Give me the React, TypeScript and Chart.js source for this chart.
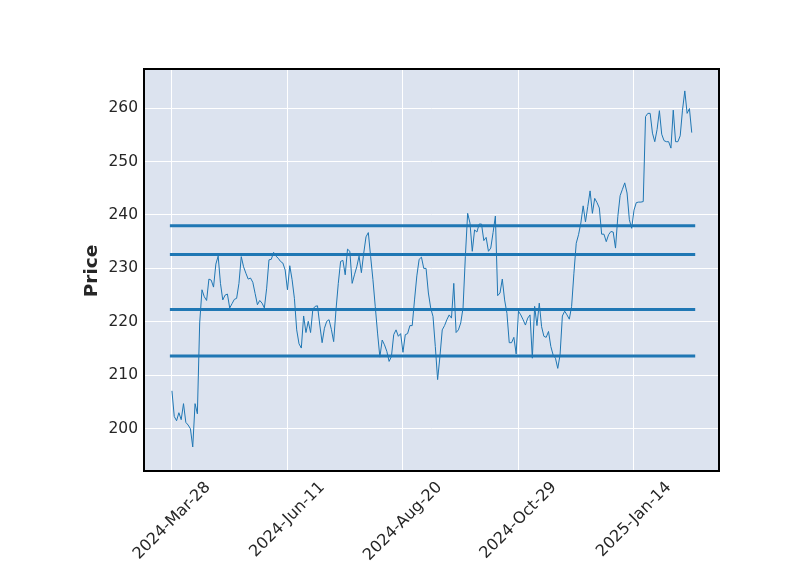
import React, { useEffect, useRef } from "react";
import { Chart, registerables } from "chart.js";
Chart.register(...registerables);

const tickLabels = ["2024-Mar-28", "2024-Jun-11", "2024-Aug-20", "2024-Oct-29", "2025-Jan-14"];
const tickIndex = [0, 50, 100, 150, 200];
const yTicks = [200, 210, 220, 230, 240, 250, 260];
const yLabel = "Price";

const closesA = [207.1, 202.3, 201.5, 203.0, 201.7, 204.7, 201.2, 200.7, 200.0, 196.6, 204.7, 202.8, 219.8, 226.0, 224.7, 224.0, 228.0, 227.8, 226.5, 230.8, 232.3, 227.2, 224.1, 225.0, 225.2, 222.6, 223.4, 224.2, 224.4, 227.2, 232.2, 230.3, 229.1, 228.0, 228.2];
const closesB = [227.4, 225.3, 223.2, 224.0, 223.5, 222.6, 226.3, 231.6, 231.7, 233.0, 232.3, 231.9, 231.3, 231.0, 229.7, 226.0, 230.5, 227.9, 224.4, 218.5, 215.9, 215.1, 221.1, 218.0, 220.1, 218.0, 222.4, 222.9, 223.0, 219.4, 216.1, 218.8, 220.1, 220.4, 218.6, 216.3, 222.2, 227.2];
const closesC = [231.3, 231.5, 228.8, 233.6, 233.2, 227.2, 228.8, 230.3, 232.3, 229.2, 232.8, 235.9, 236.7, 232.2, 227.9, 222.9, 217.9, 213.4, 216.6, 215.7, 214.5, 212.6, 213.5, 217.6, 218.5, 217.3, 217.8, 214.3, 217.6, 217.8, 219.3, 219.3, 224.1, 228.6, 231.7, 232.1, 230.0];
const closesD = [230.0, 225.4, 222.6, 221.0, 215.4, 209.2, 213.5, 218.5, 219.3, 220.4, 221.3, 220.7, 227.2, 218.0, 218.5, 219.8, 222.6, 232.2, 240.3, 238.5, 233.2, 237.2, 236.8, 238.3, 238.3, 235.2, 235.8, 233.2, 233.8, 236.7, 239.8, 224.9, 225.4, 228.0, 224.1, 221.6];
const closesE = [216.1, 216.1, 217.1, 214.0, 222.0, 221.3, 220.4, 219.4, 220.7, 221.3, 213.2, 222.9, 219.3, 223.5, 219.1, 217.3, 217.1, 218.2, 215.4, 213.8, 213.2, 211.3, 213.8, 221.1, 222.0, 221.3, 220.5, 222.9, 229.1, 234.7, 236.3, 238.5, 241.7, 238.7, 241.6, 244.5, 240.3];
const closesF = [243.1, 242.3, 241.3, 236.4, 236.4, 235.0, 236.3, 236.9, 236.8, 233.8, 239.7, 243.6, 244.8, 246.0, 244.1, 239.1, 237.5, 240.9, 242.3, 242.4, 242.4, 242.5, 258.4, 259.0, 259.0, 255.3, 253.7, 256.0, 259.5, 255.1, 253.9, 253.7, 253.7, 252.5, 259.6, 253.7, 253.7, 254.8, 259.6, 263.2, 259.0, 259.9, 255.4];
const closes = [...closesA, ...closesB, ...closesC, ...closesD, ...closesE, ...closesF];

const levels = [238.0, 232.6, 222.3, 213.6];
const levelSpan = [-0.9, 226.5];

const LINE = "#1f77b4";
const FACE = "#DCE3EF";
const TEXT = "#262626";
const FONT = "'DejaVu Sans', sans-serif";

export default function App() {
  const ref = useRef<HTMLCanvasElement | null>(null);
  useEffect(() => {
    const canvas = ref.current;
    if (!canvas) return;
    const datasets: any[] = [
      {
        data: closes.map((v, i) => ({ x: i, y: v })),
        borderColor: LINE,
        borderWidth: 1,
        pointRadius: 0,
        tension: 0,
        fill: false,
      },
      ...levels.map((lv) => ({
        data: levelSpan.map((x) => ({ x, y: lv })),
        borderColor: LINE,
        borderWidth: 3,
        pointRadius: 0,
        fill: false,
        borderCapStyle: "butt",
      })),
    ];
    const framePlugin = {
      id: "frame",
      beforeDraw(chart: any) {
        const { ctx, chartArea: a } = chart;
        ctx.save();
        ctx.fillStyle = FACE;
        ctx.fillRect(a.left, a.top, a.right - a.left, a.bottom - a.top);
        ctx.restore();
      },
      afterDraw(chart: any) {
        const { ctx, chartArea: a } = chart;
        ctx.save();
        ctx.strokeStyle = "#000";
        ctx.lineWidth = 2;
        ctx.strokeRect(a.left, a.top, a.right - a.left, a.bottom - a.top);
        const xs = chart.scales.x;
        ctx.fillStyle = TEXT;
        ctx.font = `16px ${FONT}`;
        ctx.textAlign = "center";
        ctx.textBaseline = "middle";
        tickIndex.forEach((ti, k) => {
          const px = xs.getPixelForValue(ti);
          const label = tickLabels[k];
          const w = ctx.measureText(label).width;
          const cy = a.bottom + 10 + (w + 11) / (2 * Math.SQRT2);
          ctx.save();
          ctx.translate(px, cy);
          ctx.rotate(-Math.PI / 4);
          ctx.fillText(label, 0, 0);
          ctx.restore();
        });
        ctx.font = `bold 18.5px ${FONT}`;
        ctx.translate(92, (a.top + a.bottom) / 2 + 1);
        ctx.rotate(-Math.PI / 2);
        ctx.fillText(yLabel, 0, 0);
        ctx.restore();
      },
    };
    const chart = new Chart(canvas, {
      type: "line",
      data: { datasets },
      options: {
        animation: false,
        responsive: false,
        maintainAspectRatio: false,
        layout: { padding: { top: 69, right: 81, left: 0, bottom: 0 } },
        plugins: { legend: { display: false }, tooltip: { enabled: false } },
        scales: {
          x: {
            type: "linear",
            min: -12.1,
            max: 236.8,
            afterBuildTicks: (s: any) => {
              s.ticks = tickIndex.map((v) => ({ value: v }));
            },
            afterFit: (s: any) => {
              s.height = 104;
            },
            ticks: { display: false },
            grid: { color: "#ffffff", lineWidth: 1, drawTicks: false },
            border: { display: false },
          },
          y: {
            type: "linear",
            min: 192.1,
            max: 267.3,
            afterBuildTicks: (s: any) => {
              s.ticks = yTicks.map((v) => ({ value: v }));
            },
            afterFit: (s: any) => {
              s.width = 144;
            },
            ticks: {
              color: TEXT,
              font: { family: FONT, size: 15.5 },
              padding: 6,
            },
            grid: { color: "#ffffff", lineWidth: 1, drawTicks: false },
            border: { display: false },
          },
        },
      },
      plugins: [framePlugin],
    });
    return () => chart.destroy();
  }, []);
  return (
    <div style={{ position: "fixed", left: 0, top: 0, width: 800, height: 575, background: "#fff" }}>
      <canvas ref={ref} width={800} height={575} style={{ width: 800, height: 575 }} />
    </div>
  );
}
